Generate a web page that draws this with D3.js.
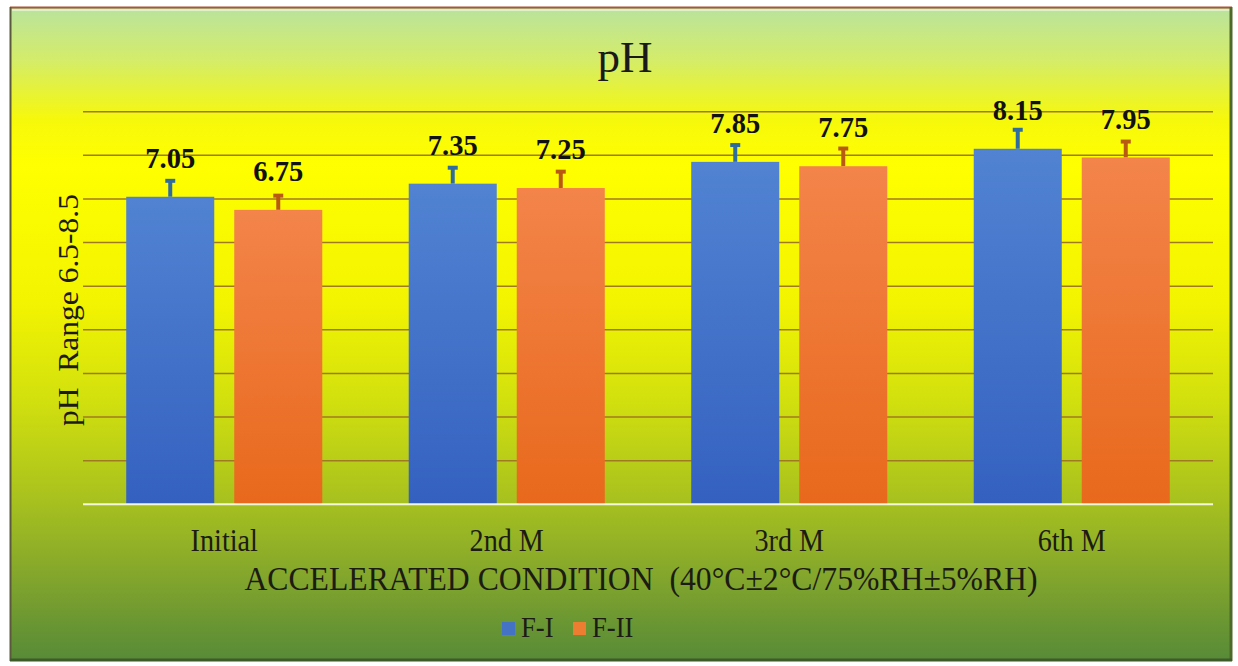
<!DOCTYPE html>
<html>
<head>
<meta charset="utf-8">
<script src="https://cdn.jsdelivr.net/npm/d3@7"></script>
<style>
  body { margin: 0; background: #fff; }
  text { font-family: "Liberation Serif", "Times New Roman", serif; }
</style>
</head>
<body>
<svg id="chart"></svg>
<script>
// chart data
const categories = ["Initial", "2nd M", "3rd M", "6th M"];
const seriesNames = ["F-I", "F-II"];
const valuesFI = [7.05, 7.35, 7.85, 8.15];
const valuesFII = [6.75, 7.25, 7.75, 7.95];
const errorsFI = [0.4, 0.4, 0.42, 0.47];
const errorsFII = [0.36, 0.41, 0.44, 0.4];
const yTicks = [0, 1, 2, 3, 4, 5, 6, 7, 8, 9];

const width = 1238;
const height = 666;

const svg = d3.select("#chart")
  .attr("width", width)
  .attr("height", height);

const defs = svg.append("defs");

// background gradient (pale green -> yellow -> olive green)
const bg = defs.append("linearGradient")
  .attr("id", "bg").attr("x1", 0).attr("y1", 0).attr("x2", 0).attr("y2", 1);
[["0%", "#b9e39e"], ["8%", "#d4ec6a"], ["17%", "#f6f80c"], ["24%", "#ffff00"],
 ["45%", "#f3f400"], ["60%", "#d2e00e"], ["75%", "#a9c21e"], ["86%", "#86a82b"],
 ["100%", "#578a38"]].forEach(s => bg.append("stop").attr("offset", s[0]).attr("stop-color", s[1]));

// bar gradients
const gBlue = defs.append("linearGradient")
  .attr("id", "gBlue").attr("x1", 0).attr("y1", 0).attr("x2", 0).attr("y2", 1);
gBlue.append("stop").attr("offset", "0%").attr("stop-color", "#5183d2");
gBlue.append("stop").attr("offset", "100%").attr("stop-color", "#3461c0");
const gOrange = defs.append("linearGradient")
  .attr("id", "gOrange").attr("x1", 0).attr("y1", 0).attr("x2", 0).attr("y2", 1);
gOrange.append("stop").attr("offset", "0%").attr("stop-color", "#f3844a");
gOrange.append("stop").attr("offset", "100%").attr("stop-color", "#e8691c");

const fills = ["url(#gBlue)", "url(#gOrange)"];
const errColors = ["#2f6d9e", "#b85a10"];
const legendColors = ["#4472c4", "#ed7d31"];

// squeeze text horizontally a bit (the source picture has tall, narrow glyphs)
function squeeze(sel, k) {
  sel.each(function() {
    const w = this.getComputedTextLength();
    d3.select(this)
      .attr("textLength", w * k)
      .attr("lengthAdjust", "spacingAndGlyphs");
  });
}

// chart frame
svg.append("rect")
  .attr("x", 10).attr("y", 7)
  .attr("width", 1222).attr("height", 654)
  .attr("fill", "url(#bg)");
svg.append("line").attr("x1", 10).attr("x2", 1232).attr("y1", 7.5).attr("y2", 7.5)
  .attr("stroke", "#a8553a").attr("stroke-width", 2);
svg.append("line").attr("x1", 12).attr("x2", 1230).attr("y1", 10).attr("y2", 10)
  .attr("stroke", "#e8f4d0").attr("stroke-width", 2).attr("opacity", 0.8);
svg.append("line").attr("x1", 10.5).attr("x2", 10.5).attr("y1", 7).attr("y2", 661)
  .attr("stroke", "#5a5a3a").attr("stroke-width", 2);
svg.append("line").attr("x1", 1231).attr("x2", 1231).attr("y1", 7).attr("y2", 661)
  .attr("stroke", "#4e6a2a").attr("stroke-width", 3);
svg.append("line").attr("x1", 10).attr("x2", 1232).attr("y1", 660).attr("y2", 660)
  .attr("stroke", "#3e5a2a").attr("stroke-width", 3);

// scales
const x0 = d3.scaleBand()
  .domain(categories)
  .range([83, 1213])
  .paddingInner(0.306)
  .paddingOuter(0.153);

const x1 = d3.scaleBand()
  .domain(seriesNames)
  .range([0, x0.bandwidth()])
  .paddingInner(0.185);

const y = d3.scaleLinear()
  .domain([0, 9])
  .range([504.3, 111.7]);

// gridlines
svg.append("g")
  .selectAll("line")
  .data(yTicks.slice(1))
  .enter()
  .append("line")
  .attr("x1", 83).attr("x2", 1213)
  .attr("y1", d => y(d)).attr("y2", d => y(d))
  .attr("stroke", "#a07a22")
  .attr("stroke-width", 1.5);

// grouped data
const rows = categories.map((c, i) => ({
  cat: c,
  bars: [
    { s: 0, name: seriesNames[0], v: valuesFI[i], e: errorsFI[i] },
    { s: 1, name: seriesNames[1], v: valuesFII[i], e: errorsFII[i] }
  ]
}));

const groups = svg.append("g")
  .selectAll("g")
  .data(rows)
  .enter()
  .append("g")
  .attr("transform", d => `translate(${x0(d.cat)},0)`);

// error bars (plus direction), drawn before bars
groups.selectAll(".err")
  .data(d => d.bars)
  .enter()
  .append("g")
  .attr("class", "err")
  .each(function(d) {
    const cx = x1(d.name) + x1.bandwidth() / 2;
    const g = d3.select(this);
    g.append("line")
      .attr("x1", cx).attr("x2", cx)
      .attr("y1", y(d.v)).attr("y2", y(d.v + d.e))
      .attr("stroke", errColors[d.s]).attr("stroke-width", 4);
    g.append("line")
      .attr("x1", cx - 5).attr("x2", cx + 5)
      .attr("y1", y(d.v + d.e) + 1.5).attr("y2", y(d.v + d.e) + 1.5)
      .attr("stroke", errColors[d.s]).attr("stroke-width", 4);
  });

// bars
groups.selectAll(".bar")
  .data(d => d.bars)
  .enter()
  .append("rect")
  .attr("class", "bar")
  .attr("x", d => x1(d.name))
  .attr("width", x1.bandwidth())
  .attr("y", d => y(d.v))
  .attr("height", d => y(0) - y(d.v))
  .attr("fill", d => fills[d.s]);

// value labels
groups.selectAll(".val")
  .data(d => d.bars)
  .enter()
  .append("text")
  .attr("class", "val")
  .attr("x", d => x1(d.name) + x1.bandwidth() / 2)
  .attr("y", d => y(d.v) - 29)
  .attr("text-anchor", "middle")
  .attr("font-size", 30)
  .attr("font-weight", "bold")
  .attr("fill", "#111")
  .text(d => d.v.toFixed(2))
  .call(squeeze, 0.95);

// baseline
svg.append("line")
  .attr("x1", 83).attr("x2", 1213)
  .attr("y1", y(0)).attr("y2", y(0))
  .attr("stroke", "#f4f6d8")
  .attr("stroke-width", 2);

// category axis
const xAxis = svg.append("g")
  .attr("transform", `translate(0,${y(0)})`)
  .call(d3.axisBottom(x0).tickSize(0).tickPadding(24));
xAxis.select(".domain").remove();
xAxis.selectAll("text")
  .attr("font-family", "Liberation Serif, Times New Roman, serif")
  .attr("font-size", 32)
  .attr("fill", "#1c1c14")
  .call(squeeze, 0.88);

// title
svg.append("text")
  .attr("x", 625).attr("y", 72)
  .attr("text-anchor", "middle")
  .attr("font-size", 45)
  .attr("fill", "#1a1a1a")
  .text("pH");

// y axis title
svg.append("text")
  .attr("transform", "translate(78,310) rotate(-90)")
  .attr("text-anchor", "middle")
  .attr("font-size", 30)
  .attr("fill", "#1c1c14")
  .style("white-space", "pre")
  .text("pH  Range 6.5-8.5")
  .call(squeeze, 1.05);

// x axis title
svg.append("text")
  .attr("x", 641).attr("y", 590)
  .attr("text-anchor", "middle")
  .attr("font-size", 33)
  .attr("fill", "#1c1c14")
  .style("white-space", "pre")
  .text("ACCELERATED CONDITION  (40°C±2°C/75%RH±5%RH)")
  .call(squeeze, 0.96);

// legend
const legend = svg.append("g");
const legendX = [502, 573];
seriesNames.forEach((name, i) => {
  legend.append("rect")
    .attr("x", legendX[i]).attr("y", 622)
    .attr("width", 13).attr("height", 13)
    .attr("fill", legendColors[i]);
  legend.append("text")
    .attr("x", legendX[i] + 19).attr("y", 637)
    .attr("font-size", 29)
    .attr("fill", "#1c1c14")
    .text(name)
    .call(squeeze, 0.92);
});
</script>
</body>
</html>
